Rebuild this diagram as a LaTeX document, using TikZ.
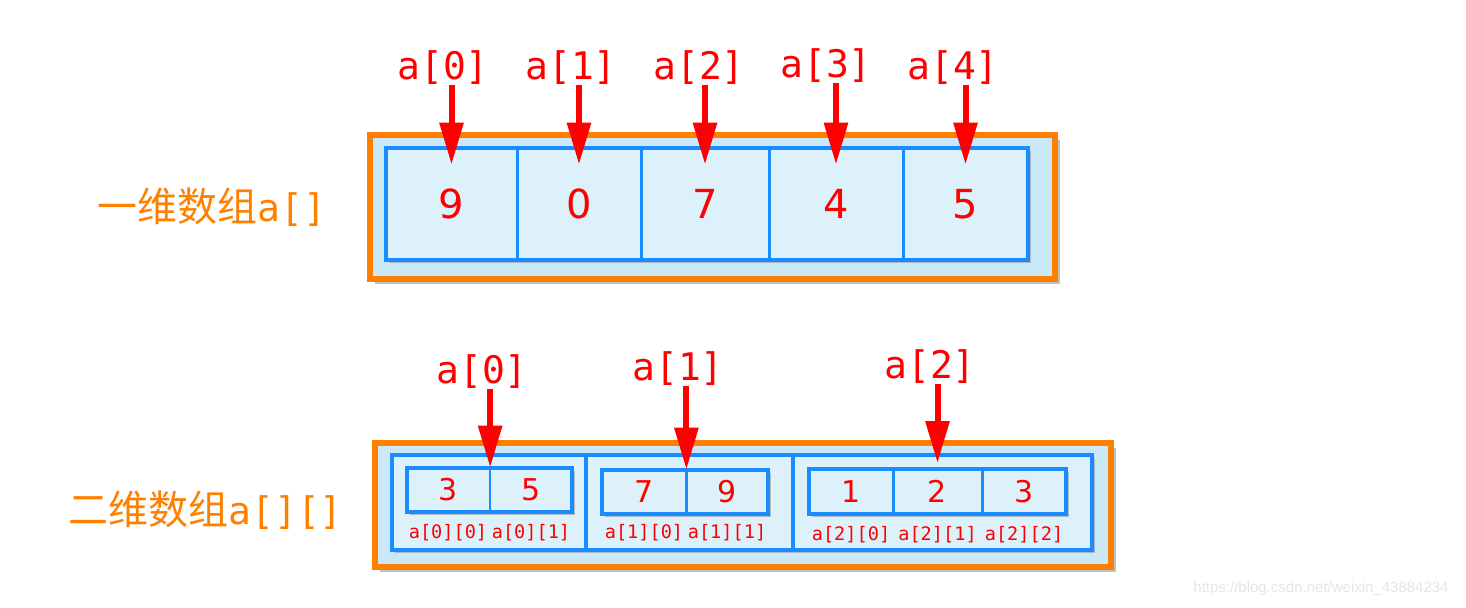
\documentclass[tikz,border=0pt]{standalone}
\usepackage{fontspec}
\setmainfont{DejaVu Sans}
\newfontfamily\cjk{Noto Sans CJK SC}
\newfontfamily\mono{DejaVu Sans Mono}
\newfontfamily\wmfont{Liberation Sans}
\usetikzlibrary{arrows.meta,positioning,shadows,calc}
\definecolor{arrred}{HTML}{FF0000}
\definecolor{boxorange}{HTML}{FF8000}
\definecolor{cellblue}{HTML}{1A8CFF}
\definecolor{cellfill}{HTML}{DDF1FB}
\definecolor{outerfill}{HTML}{C9E9F9}

\begin{document}
\begin{tikzpicture}[x=0.5pt, y=-0.5pt,
        outerbox/.style={draw=boxorange, line width=3pt, fill=outerfill,
            drop shadow={shadow xshift=2.5pt, shadow yshift=-2.5pt, opacity=0.5}},
        arraybox/.style={draw=cellblue, line width=2pt, fill=cellfill,
            drop shadow={shadow xshift=1.5pt, shadow yshift=-1.5pt, opacity=0.45}},
        divider/.style={draw=cellblue, line width=1.3pt},
        cell/.style={inner sep=0pt, minimum height=56pt, text=arrred, font=\fontsize{20}{20}\selectfont},
        smallcell/.style={inner sep=0pt, minimum height=22pt, text=arrred, font=\fontsize{15}{15}\selectfont},
        index/.style={inner sep=0pt, text=arrred, font=\mono\fontsize{19}{19}\selectfont},
        subindex/.style={inner sep=0pt, text=arrred, font=\mono\fontsize{9.3}{9.3}\selectfont},
        title/.style={inner sep=0pt, text=boxorange, font=\cjk\fontsize{20}{20}\selectfont},
        ptr/.style={draw=arrred, line width=3pt, -{Triangle[width=11.5pt,length=21pt]}}
    ]
    \useasboundingbox (0,0) rectangle (1466,608);
    % Array unidimensional
    \node[title, anchor=west] (t1) at (97,207) {一维数组{\mono\fontsize{19}{19}\selectfont a[]}};
    \draw[outerbox] (370,135.5) rectangle (1055,279);
    \draw[arraybox] (386,148) rectangle (1028,260);
    \node[cell, minimum width=65.5pt] (c0) at (451.5,204) {9};
    \node[cell, minimum width=62pt] (c1) at (579,204) {0};
    \node[cell, minimum width=64pt] (c2) at (705,204) {7};
    \node[cell, minimum width=67pt] (c3) at (836,204) {4};
    \node[cell, minimum width=62.5pt] (c4) at (965.5,204) {5};
    \foreach \i in {0,...,3}
        \draw[divider] (c\i.north east) -- (c\i.south east);
    \node[index] (l0) at (443,68) {a[0]};
    \node[index] (l1) at (571,68) {a[1]};
    \node[index] (l2) at (699,68) {a[2]};
    \node[index] (l3) at (826,66) {a[3]};
    \node[index] (l4) at (953,68) {a[4]};
    \foreach \i in {0,...,4}
        \draw[ptr] (c\i |- l\i.south) -- ([yshift=-8.5pt]c\i.north);
    % Array bidimensional
    \node[title, anchor=west] (t2) at (68,510) {二维数组{\mono\fontsize{19}{19}\selectfont a[][]}};
    \draw[outerbox] (375,443) rectangle (1111,567);
    \draw[arraybox] (392,455) rectangle (1092,550);
    \draw[divider, line width=1.6pt] (586,455) -- (586,550);
    \draw[divider, line width=1.6pt] (793,455) -- (793,550);
    % linha a[0]
    \draw[arraybox] (406.5,468) rectangle (572,512);
    \node[smallcell, minimum width=41.75pt] (b00) at (448,490) {3};
    \node[smallcell, minimum width=41pt] (b01) at (531,490) {5};
    % linha a[1]
    \draw[arraybox] (602,470) rectangle (768,514);
    \node[smallcell, minimum width=42pt] (b10) at (644,492) {7};
    \node[smallcell, minimum width=41pt] (b11) at (727,492) {9};
    % linha a[2]
    \draw[arraybox] (809,469) rectangle (1066,514);
    \node[smallcell, minimum width=42pt] (b20) at (851,491.5) {1};
    \node[smallcell, minimum width=44.5pt] (b21) at (937.5,491.5) {2};
    \node[smallcell, minimum width=42pt] (b22) at (1024,491.5) {3};
    \draw[divider] (b00.north east) -- (b00.south east);
    \draw[divider] (b10.north east) -- (b10.south east);
    \draw[divider] (b20.north east) -- (b20.south east);
    \draw[divider] (b21.north east) -- (b21.south east);
    \node[subindex, below=6pt of b00] (s00) {a[0][0]};
    \node[subindex, below=6pt of b01] (s01) {a[0][1]};
    \node[subindex, below=5pt of b10] (s10) {a[1][0]};
    \node[subindex, below=5pt of b11] (s11) {a[1][1]};
    \node[subindex, below=6pt of b20] (s20) {a[2][0]};
    \node[subindex, below=6pt of b21] (s21) {a[2][1]};
    \node[subindex, below=6pt of b22] (s22) {a[2][2]};
    \node[index] (m0) at (482,372) {a[0]};
    \node[index] (m1) at (678,369) {a[1]};
    \node[index] (m2) at (930,367) {a[2]};
    \draw[ptr] (b00.north east |- m0.south) -- (b00.north east);
    \draw[ptr] (b10.north east |- m1.south) -- (b10.north east);
    \draw[ptr] (b21.north |- m2.south) -- ([yshift=3pt]b21.north);
    % marca d'agua
    \node[font=\wmfont\fontsize{7.5}{7.5}\selectfont, text=black!10] (wm) at (1321,589) {https://blog.csdn.net/weixin\_43884234};
\end{tikzpicture}
\end{document}
